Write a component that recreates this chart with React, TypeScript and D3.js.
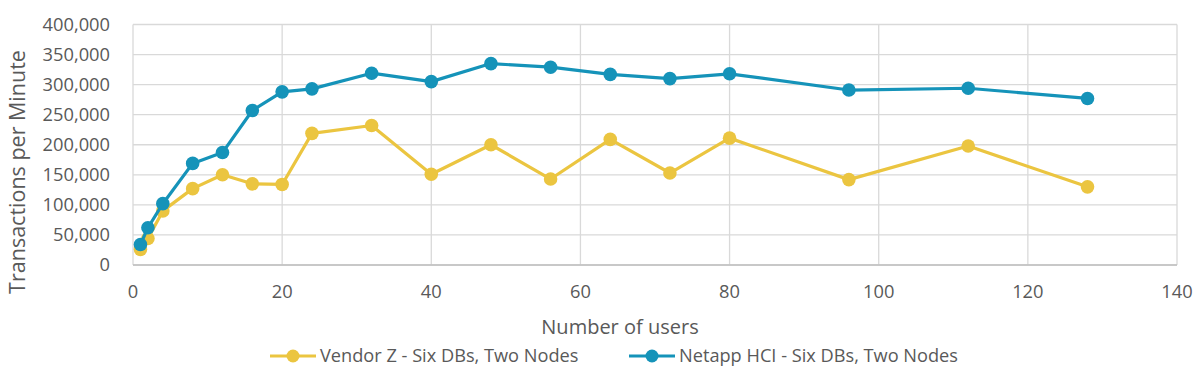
import React from "react";
import * as d3 from "d3";

const users = [1, 2, 4, 8, 12, 16, 20, 24, 32, 40, 48, 56, 64, 72, 80, 96, 112, 128];
const vendorZ = [26000, 44000, 90000, 127000, 150000, 135000, 134000, 219000, 232000, 151000, 200000, 143000, 209000, 153000, 211000, 142000, 198000, 130000];
const netapp = [34000, 62000, 102000, 169000, 187000, 257000, 288000, 293000, 319000, 305000, 335000, 329000, 317000, 310000, 318000, 291000, 294000, 277000];
const xTicks = [0, 20, 40, 60, 80, 100, 120, 140];
const yTicks = [0, 50000, 100000, 150000, 200000, 250000, 300000, 350000, 400000];
const seriesNames = ["Vendor Z - Six DBs, Two Nodes", "Netapp HCI - Six DBs, Two Nodes"];

const W = 1198, H = 380;
const M = { left: 133, right: 1177, top: 24.5, bottom: 265 };
const YELLOW = "#EBC540";
const BLUE = "#1593B9";
const TEXT = "#595959";
const FONT = "'Open Sans', sans-serif";

export default function App() {
  const x = d3.scaleLinear().domain([0, 140]).range([M.left, M.right]);
  const y = d3.scaleLinear().domain([0, 400000]).range([M.bottom, M.top]);
  const fmt = d3.format(",");
  const line = d3.line<[number, number]>().x(d => x(d[0])).y(d => y(d[1]));
  const series = [
    { name: seriesNames[0], vals: vendorZ, color: YELLOW },
    { name: seriesNames[1], vals: netapp, color: BLUE },
  ];
  const legendItems = [
    { x0: 270, color: YELLOW, name: seriesNames[0] },
    { x0: 629, color: BLUE, name: seriesNames[1] },
  ];
  return (
    <svg width={W} height={H} style={{ position: "absolute", left: 0, top: 0, background: "#fff" }} fontFamily={FONT}>
      <rect x={0} y={0} width={W} height={H} fill="#fff" />
      {yTicks.map(t => (
        <line key={"gy" + t} x1={M.left} x2={M.right} y1={y(t)} y2={y(t)} stroke="#D9D9D9" strokeWidth={1.3} />
      ))}
      {xTicks.map(t => (
        <line key={"gx" + t} x1={x(t)} x2={x(t)} y1={M.top} y2={M.bottom} stroke="#D9D9D9" strokeWidth={1.3} />
      ))}
      <line x1={M.left} x2={M.right} y1={M.bottom} y2={M.bottom} stroke="#BFBFBF" strokeWidth={1.3} />
      {yTicks.map(t => (
        <text key={"ty" + t} x={M.left - 23} y={y(t)} dy="0.35em" textAnchor="end" fontSize={18.3} fill={TEXT}>{fmt(t)}</text>
      ))}
      {xTicks.map(t => (
        <text key={"tx" + t} x={x(t)} y={292} dy="0.35em" textAnchor="middle" fontSize={18.3} fill={TEXT}>{t}</text>
      ))}
      <text x={620} y={327} dy="0.35em" textAnchor="middle" fontSize={20} fill={TEXT}>Number of users</text>
      <text transform={`translate(17,172) rotate(-90)`} dy="0.35em" textAnchor="middle" fontSize={21.5} fill={TEXT}>Transactions per Minute</text>
      {series.map(s => {
        const pts: [number, number][] = users.map((u, i) => [u, s.vals[i]]);
        return (
          <g key={s.name}>
            <path d={line(pts) || ""} fill="none" stroke={s.color} strokeWidth={3.2} strokeLinejoin="round" />
            {pts.map((p, i) => (
              <circle key={i} cx={x(p[0])} cy={y(p[1])} r={6.8} fill={s.color} />
            ))}
          </g>
        );
      })}
      {legendItems.map(l => (
        <g key={l.name}>
          <line x1={l.x0} x2={l.x0 + 46} y1={356} y2={356} stroke={l.color} strokeWidth={3.2} />
          <circle cx={l.x0 + 23} cy={356} r={6.5} fill={l.color} />
          <text x={l.x0 + 50} y={356} dy="0.35em" fontSize={18.2} fill={TEXT}>{l.name}</text>
        </g>
      ))}
    </svg>
  );
}
